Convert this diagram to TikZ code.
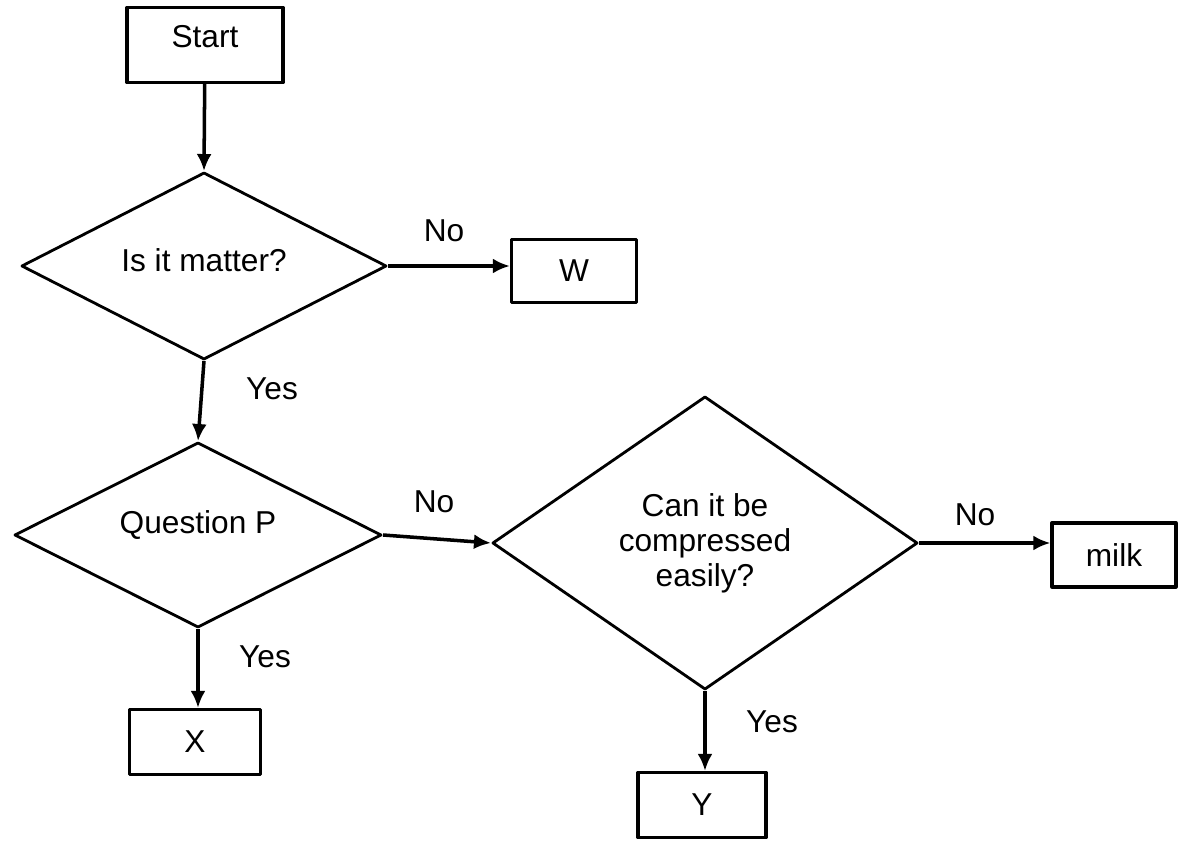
\documentclass[tikz,border=0pt]{standalone}
\usepackage{fontspec}
\setmainfont{Liberation Sans}
\usetikzlibrary{arrows.meta,shapes.geometric}

\tikzset{
  flowbox/.style={draw,line width=.9pt,inner sep=0pt},
  decision/.style={draw,diamond,line width=.8pt,inner sep=0pt,align=center},
  flow/.style={->,line width=1pt},
  lbl/.style={inner sep=0pt},
  % puts the text of a shape a little above its centre
  lifted/.style 2 args={label={[lbl,yshift=#1]center:#2}}
}

\begin{document}
\begin{tikzpicture}[x=.01cm,y=-.01cm,font=\fontsize{9}{10}\selectfont,
    >={Latex[length=1.7mm,width=1.5mm]},line join=round]
  \useasboundingbox (0,0) rectangle (1184,855);
  \fill[white] (0,0) rectangle (1184,855);

  % boxes
  \node[flowbox,lifted={2.3pt}{Start},minimum width=1.56cm,minimum height=.75cm] (start) at (205,45) {};
  \node[flowbox,minimum width=1.25cm,minimum height=.63cm] (w) at (574,271) {W};
  \node[flowbox,minimum width=1.24cm,minimum height=.64cm] (milk) at (1114,555) {milk};
  \node[flowbox,minimum width=1.31cm,minimum height=.65cm] (x) at (195,742) {X};
  \node[flowbox,minimum width=1.28cm,minimum height=.65cm] (y) at (702,805) {Y};

  % decisions
  \node[decision,lifted={1.7pt}{Is it matter?},minimum width=3.65cm,minimum height=1.87cm] (matter) at (204,266) {};
  \node[decision,lifted={2.8pt}{Question P},minimum width=3.67cm,minimum height=1.85cm] (qp) at (198,535) {};
  \node[decision,minimum width=4.25cm,minimum height=2.93cm] (compress) at (705,543)
    {Can it be\\compressed\\easily?};

  % connectors
  \draw[flow] (start) -- (matter.north);
  \draw[flow] (matter.east) -- (matter.east -| w.west);
  \draw[flow] (matter.south) -- (qp.north);
  \draw[flow] (qp.east) -- (compress.west);
  \draw[flow] (compress.east) -- (compress.east -| milk.west);
  \draw[flow] (qp.south) -- (qp.south |- x.north);
  \draw[flow] (compress.south) -- (compress.south |- y.north);

  % branch labels
  \node[lbl] (no1) at (444,231) {No};
  \node[lbl] (yes1) at (272,389) {Yes};
  \node[lbl] (no2) at (434,502) {No};
  \node[lbl] (yes2) at (265,657) {Yes};
  \node[lbl] (no3) at (975,515) {No};
  \node[lbl] (yes3) at (772,722) {Yes};
\end{tikzpicture}
\end{document}
